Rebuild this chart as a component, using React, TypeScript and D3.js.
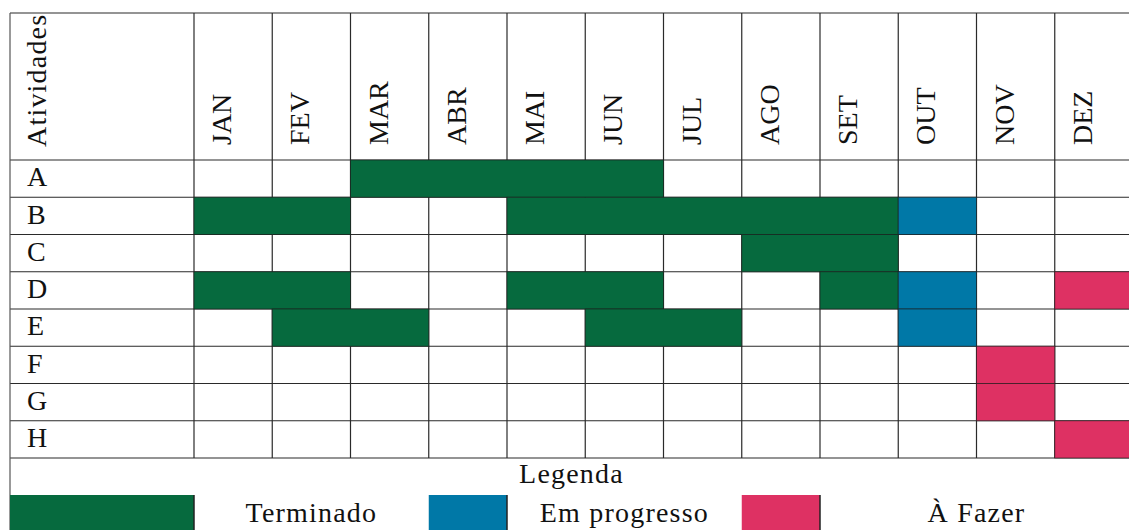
import { useEffect, useRef } from "react";
import * as d3 from "d3";

const months = ["JAN", "FEV", "MAR", "ABR", "MAI", "JUN", "JUL", "AGO", "SET", "OUT", "NOV", "DEZ"];
const activities = ["A", "B", "C", "D", "E", "F", "G", "H"];

// [atividade, mês inicial, mês final, estado]
const segments: [string, string, string, string][] = [
  ["A", "MAR", "JUN", "Terminado"],
  ["B", "JAN", "FEV", "Terminado"],
  ["B", "MAI", "SET", "Terminado"],
  ["B", "OUT", "OUT", "Em progresso"],
  ["C", "AGO", "SET", "Terminado"],
  ["D", "JAN", "FEV", "Terminado"],
  ["D", "MAI", "JUN", "Terminado"],
  ["D", "SET", "SET", "Terminado"],
  ["D", "OUT", "OUT", "Em progresso"],
  ["D", "DEZ", "DEZ", "À Fazer"],
  ["E", "FEV", "MAR", "Terminado"],
  ["E", "JUN", "JUL", "Terminado"],
  ["E", "OUT", "OUT", "Em progresso"],
  ["F", "NOV", "NOV", "À Fazer"],
  ["G", "NOV", "NOV", "À Fazer"],
  ["H", "DEZ", "DEZ", "À Fazer"],
];

const statuses = ["Terminado", "Em progresso", "À Fazer"];
const statusColors = ["#066a3e", "#0078a7", "#de3163"];

// legenda: coluna da amostra e colunas do texto
const legendSwatchStart = [null, "ABR", "AGO"];
const legendTextSpan: [string, string][] = [["JAN", "MAR"], ["MAI", "JUL"], ["SET", "DEZ"]];

const W = 1129;
const H = 530;
const FONT = "'Liberation Serif', 'Times New Roman', serif";
const FS = 28;

export default function App() {
  const svgRef = useRef<SVGSVGElement>(null);

  useEffect(() => {
    if (!svgRef.current) return;
    const svg = d3.select(svgRef.current);
    svg.selectAll("*").remove();

    const left = 10;
    const labelRight = 194;
    const top = 13;
    const headerBottom = 160;
    const tableBottom = 458;
    const lineColor = "#2a2a2a";

    const x = d3.scaleBand<string>().domain(months).range([labelRight, 1133]).padding(0);
    const y = d3.scaleBand<string>().domain(activities).range([headerBottom, tableBottom]).padding(0);
    const color = d3.scaleOrdinal<string, string>().domain(statuses).range(statusColors);
    const bw = x.bandwidth();

    const g = svg.append("g");

    // grid: horizontal lines
    const hLines = [top, headerBottom, ...activities.map((a) => (y(a) as number) + y.bandwidth())];
    g.selectAll("line.h")
      .data(hLines)
      .join("line")
      .attr("x1", left)
      .attr("x2", W)
      .attr("y1", (d) => d)
      .attr("y2", (d) => d)
      .attr("stroke", lineColor)
      .attr("stroke-width", 1.2);

    // vertical lines
    const vLines = [labelRight, ...months.slice(1).map((m) => x(m) as number)];
    g.selectAll("line.v")
      .data(vLines)
      .join("line")
      .attr("x1", (d) => d)
      .attr("x2", (d) => d)
      .attr("y1", top)
      .attr("y2", tableBottom)
      .attr("stroke", lineColor)
      .attr("stroke-width", 1.2);

    g.append("line")
      .attr("x1", left)
      .attr("x2", left)
      .attr("y1", top)
      .attr("y2", H)
      .attr("stroke", "#555")
      .attr("stroke-width", 1.2);

    // bars
    g.selectAll("rect.seg")
      .data(segments)
      .join("rect")
      .attr("x", (d) => x(d[1]) as number)
      .attr("y", (d) => y(d[0]) as number)
      .attr("width", (d) => (x(d[2]) as number) + bw - (x(d[1]) as number))
      .attr("height", y.bandwidth())
      .attr("fill", (d) => color(d[3]))
      .attr("stroke", "#1a1a1a")
      .attr("stroke-opacity", 0.6)
      .attr("stroke-width", 1);

    // header
    g.append("text")
      .attr("transform", `translate(${left + 36},147) rotate(-90)`)
      .attr("font-family", FONT)
      .attr("font-size", FS)
      .attr("letter-spacing", 1.2)
      .attr("fill", "#111")
      .text("Atividades");

    g.selectAll("text.month")
      .data(months)
      .join("text")
      .attr("transform", (d) => `translate(${(x(d) as number) + 37},145) rotate(-90)`)
      .attr("font-family", FONT)
      .attr("font-size", FS)
      .attr("fill", "#111")
      .text((d) => d);

    g.selectAll("text.act")
      .data(activities)
      .join("text")
      .attr("x", 27)
      .attr("y", (d) => (y(d) as number) + y.bandwidth() - 11)
      .attr("font-family", FONT)
      .attr("font-size", FS)
      .attr("fill", "#111")
      .text((d) => d);

    // legend
    g.append("text")
      .attr("x", (left + 1133) / 2)
      .attr("y", 483)
      .attr("text-anchor", "middle")
      .attr("font-family", FONT)
      .attr("font-size", FS)
      .attr("letter-spacing", 1.2)
      .attr("fill", "#111")
      .text("Legenda");

    const legendTop = 495;
    statuses.forEach((s, i) => {
      const sx = legendSwatchStart[i] ? (x(legendSwatchStart[i] as string) as number) : left;
      const ex = legendSwatchStart[i] ? sx + bw : labelRight;
      g.append("rect")
        .attr("x", sx)
        .attr("y", legendTop)
        .attr("width", ex - sx)
        .attr("height", H - legendTop + 5)
        .attr("fill", color(s));
      g.append("line")
        .attr("x1", ex)
        .attr("x2", ex)
        .attr("y1", legendTop)
        .attr("y2", H)
        .attr("stroke", "#222")
        .attr("stroke-width", 1.5);
      const [a, b] = legendTextSpan[i];
      const cx = ((x(a) as number) + (x(b) as number) + bw) / 2;
      g.append("text")
        .attr("x", cx)
        .attr("y", 522)
        .attr("text-anchor", "middle")
        .attr("font-family", FONT)
        .attr("font-size", FS)
        .attr("letter-spacing", 1.2)
        .attr("fill", "#111")
        .text(s);
    });
  }, []);

  return (
    <svg
      ref={svgRef}
      width={W}
      height={H}
      style={{ position: "fixed", left: 0, top: 0, background: "#fff" }}
    />
  );
}
